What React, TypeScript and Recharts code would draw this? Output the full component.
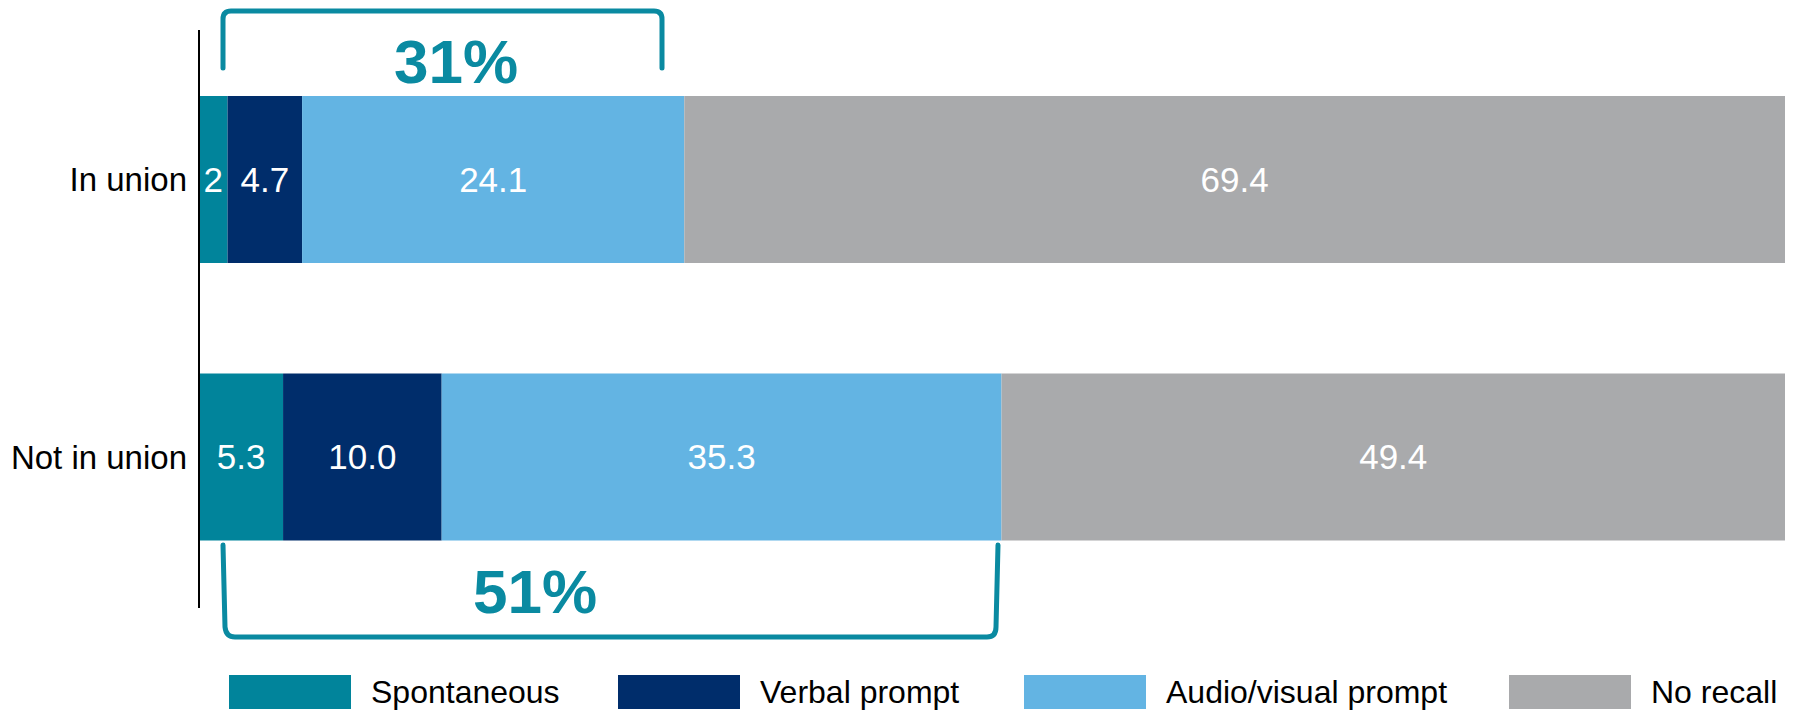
import React from "react";
import { BarChart, Bar, XAxis, YAxis, LabelList, Legend } from "recharts";

const categories = ["In union", "Not in union"];
const spontaneous = [1.8, 5.3];
const verbalPrompt = [4.7, 10.0];
const audioVisual = [24.1, 35.3];
const noRecall = [69.4, 49.4];
const spontaneousLabels = ["2", "5.3"];
const verbalLabels = ["4.7", "10.0"];
const audioLabels = ["24.1", "35.3"];
const noRecallLabels = ["69.4", "49.4"];
const seriesNames = ["Spontaneous", "Verbal prompt", "Audio/visual prompt", "No recall"];
const annotations = ["31%", "51%"];

const COLORS = ["#01849B", "#002D6B", "#63B4E3", "#A9AAAC"];
const TEAL = "#0A8AA1";
const FONT = "'Liberation Sans', Arial, sans-serif";

const data = categories.map((name, i) => ({
  name,
  s: spontaneous[i],
  v: verbalPrompt[i],
  a: audioVisual[i],
  n: noRecall[i],
  sl: spontaneousLabels[i],
  vl: verbalLabels[i],
  al: audioLabels[i],
  nl: noRecallLabels[i],
}));

const keys = [
  { key: "s", label: "sl" },
  { key: "v", label: "vl" },
  { key: "a", label: "al" },
  { key: "n", label: "nl" },
];

const legendWidths = [389, 406, 485, 270];

const renderLegend = () => (
  <div style={{ display: "flex", flexDirection: "row", fontFamily: FONT }}>
    {seriesNames.map((nm, i) => (
      <div key={nm} style={{ width: legendWidths[i], display: "flex", alignItems: "center" }}>
        <div style={{ width: 122, height: 34, background: COLORS[i], marginRight: 20, flex: "none" }} />
        <span style={{ fontSize: 32, color: "#000", whiteSpace: "nowrap", lineHeight: "34px" }}>{nm}</span>
      </div>
    ))}
  </div>
);

export default function App() {
  return (
    <div style={{ position: "absolute", left: 0, top: 0, width: 1801, height: 711, background: "#fff" }}>
      <BarChart
        width={1801}
        height={711}
        data={data}
        layout="vertical"
        margin={{ top: 30, right: 16, bottom: 103, left: 9 }}
      >
        <XAxis type="number" domain={[0, 100]} allowDataOverflow hide />
        <YAxis
          type="category"
          dataKey="name"
          width={190}
          padding={{ top: 11, bottom: 12 }}
          axisLine={{ stroke: "#000", strokeWidth: 2 }}
          tickLine={false}
          tickMargin={6}
          tick={{ fill: "#000", fontSize: 33, fontFamily: FONT }}
        />
        <Legend
          layout="horizontal"
          verticalAlign="middle"
          align="center"
          content={renderLegend}
          wrapperStyle={{ top: 675, left: 229, width: 1560, height: 34 }}
        />
        {keys.map((k, i) => (
          <Bar
            key={k.key}
            dataKey={k.key}
            name={seriesNames[i]}
            stackId="a"
            fill={COLORS[i]}
            barSize={167}
            isAnimationActive={false}
          >
            <LabelList
              dataKey={k.label}
              position="center"
              fill="#fff"
              fontSize={35}
              fontFamily={FONT}
            />
          </Bar>
        ))}
      </BarChart>
      <svg
        width={1801}
        height={711}
        style={{ position: "absolute", left: 0, top: 0, pointerEvents: "none" }}
      >
        <path
          d="M223,68 L223,19 Q223,11 231,11 L654,11 Q662,11 662,19 L662,68"
          fill="none"
          stroke={TEAL}
          strokeWidth={5}
          strokeLinecap="round"
        />
        <path
          d="M223,545 L225,627 Q226,637 235,637 L987,637 Q996,637 996,627 L998,545"
          fill="none"
          stroke={TEAL}
          strokeWidth={5}
          strokeLinecap="round"
        />
        <text x={456} y={83} textAnchor="middle" fill={TEAL} fontSize={62} fontWeight="bold" fontFamily={FONT}>
          {annotations[0]}
        </text>
        <text x={535} y={613} textAnchor="middle" fill={TEAL} fontSize={62} fontWeight="bold" fontFamily={FONT}>
          {annotations[1]}
        </text>
      </svg>
    </div>
  );
}
